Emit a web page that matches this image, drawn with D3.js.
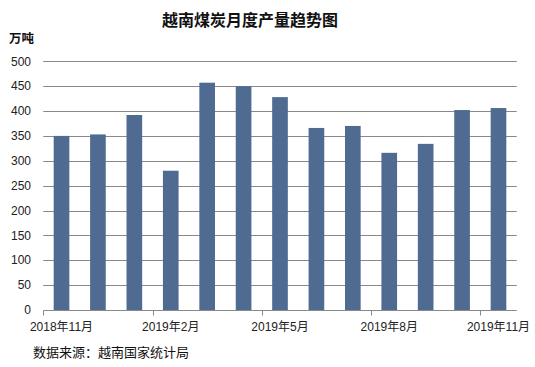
<!DOCTYPE html>
<html>
<head>
<meta charset="utf-8">
<script src="https://cdn.jsdelivr.net/npm/d3@7"></script>
<style>
  html, body { margin: 0; padding: 0; background: #fff; }
  svg { display: block; }
</style>
</head>
<body>
<div id="chart"></div>
<script>
const months = ["2018-11","2018-12","2019-01","2019-02","2019-03","2019-04","2019-05","2019-06","2019-07","2019-08","2019-09","2019-10","2019-11"];
const monthLabels = ["2018年11月","","","2019年2月","","","2019年5月","","","2019年8月","","","2019年11月"];
const production = [350, 353, 392, 280, 457, 450, 428, 366, 370, 316, 334, 402, 406];
const yTicks = [0, 50, 100, 150, 200, 250, 300, 350, 400, 450, 500];
const title = "越南煤炭月度产量趋势图";
const unitLabel = "万吨";
const sourceText = "数据来源：越南国家统计局";

const W = 535, H = 367;
const margin = { left: 43.3, right: 18.3, top: 61.3, bottom: 57 };
const svg = d3.select("#chart").append("svg").attr("width", W).attr("height", H);

const x = d3.scaleBand().domain(months).range([margin.left, W - margin.right]).paddingInner(0.57).paddingOuter(0.285);
const xb = d3.scaleBand().domain(months).range([margin.left, W - margin.right]);
const y = d3.scaleLinear().domain([0, 500]).range([H - margin.bottom, margin.top]);

const font = "'Liberation Sans', Arial, 'Noto Sans CJK SC', sans-serif";

// gridlines
svg.append("g").selectAll("line").data(yTicks.filter(d => d > 0)).join("line")
  .attr("x1", margin.left).attr("x2", W - margin.right)
  .attr("y1", d => Math.round(y(d)) + 0.5).attr("y2", d => Math.round(y(d)) + 0.5)
  .attr("stroke", "#898989").attr("stroke-width", 1);

// y labels
svg.append("g").selectAll("text").data(yTicks).join("text")
  .attr("x", 31).attr("y", d => y(d)).attr("dy", "0.35em")
  .attr("text-anchor", "end").attr("font-family", font).attr("font-size", 12).attr("fill", "#222")
  .text(d => d);

// bars
svg.append("g").selectAll("rect").data(production).join("rect")
  .attr("x", (d, i) => x(months[i])).attr("width", x.bandwidth())
  .attr("y", d => y(d)).attr("height", d => y(0) - y(d))
  .attr("fill", "#4f6b91");

// x axis line
const y0 = Math.round(y(0)) + 0.5;
svg.append("line").attr("x1", margin.left).attr("x2", W - margin.right)
  .attr("y1", y0).attr("y2", y0).attr("stroke", "#898989");
// ticks at left band boundary every 3 categories
svg.append("g").selectAll("line").data(months.filter((d, i) => i % 3 === 0)).join("line")
  .attr("x1", d => Math.round(xb(d)) + 0.5).attr("x2", d => Math.round(xb(d)) + 0.5)
  .attr("y1", y0).attr("y2", y0 + 5).attr("stroke", "#898989");

// x labels
svg.append("g").selectAll("text").data(months).join("text")
  .attr("x", d => xb(d) + xb.bandwidth() / 2).attr("y", 331)
  .attr("text-anchor", "middle").attr("font-family", font).attr("font-size", 12).attr("fill", "#222")
  .text((d, i) => monthLabels[i]);

// title
svg.append("text").attr("x", 250).attr("y", 26).attr("text-anchor", "middle")
  .attr("font-family", "'Noto Sans CJK SC', sans-serif").attr("font-weight", "bold").attr("font-size", 16)
  .attr("fill", "#111").text(title);

// unit
svg.append("text").attr("x", 9).attr("y", 43)
  .attr("font-family", "'Noto Sans CJK SC', sans-serif").attr("font-weight", "bold").attr("font-size", 12.5)
  .attr("fill", "#111").text(unitLabel);

// source
svg.append("text").attr("x", 33).attr("y", 357)
  .attr("font-family", "'Noto Sans CJK SC', sans-serif").attr("font-size", 13)
  .attr("fill", "#111").text(sourceText);
</script>
</body>
</html>
